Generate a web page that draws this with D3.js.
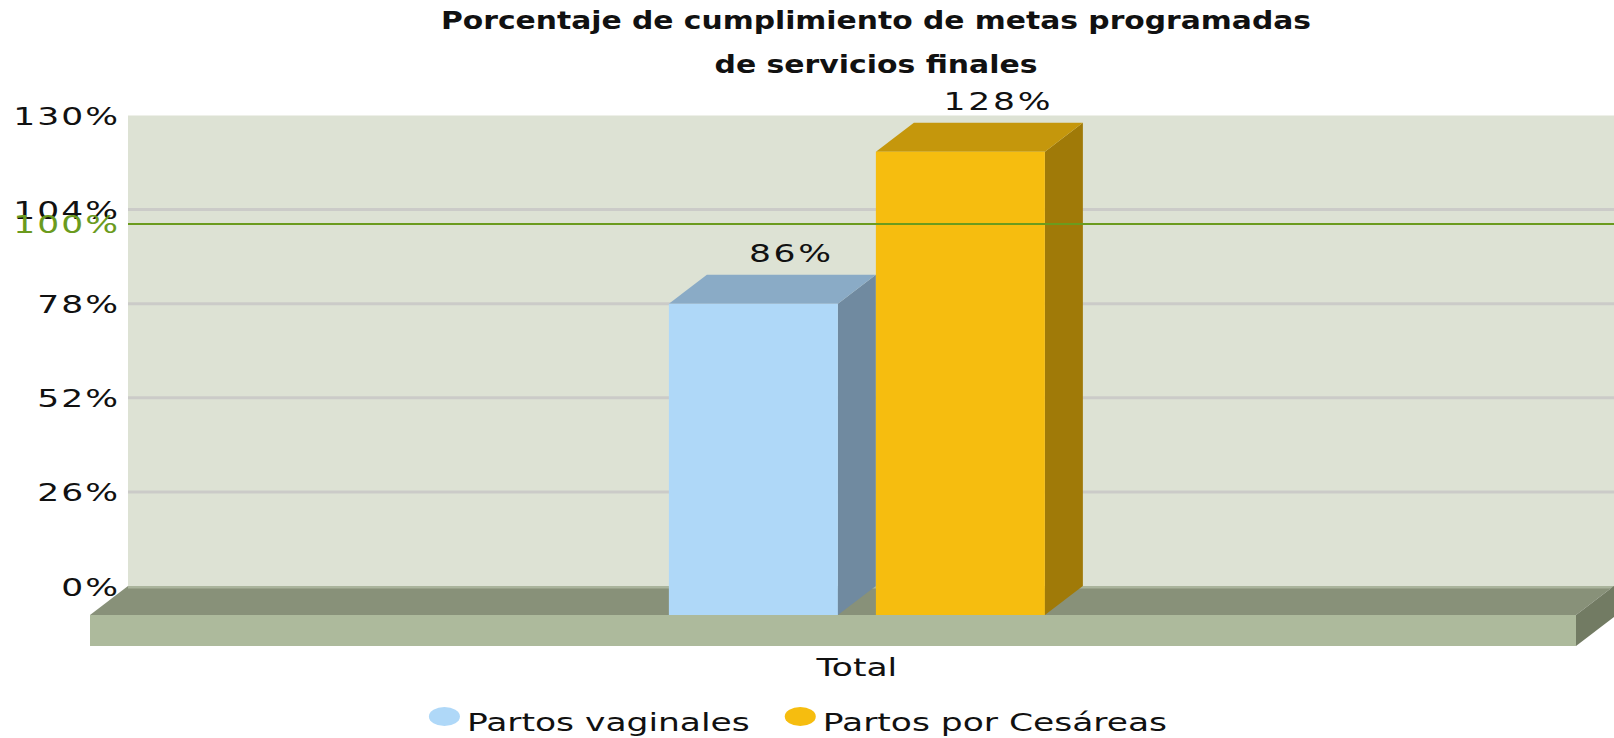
<!DOCTYPE html>
<html>
<head>
<meta charset="utf-8">
<script src="https://cdn.jsdelivr.net/npm/d3@7"></script>
<style>
  html, body { margin: 0; padding: 0; background: #fff; }
  svg { display: block; font-family: "DejaVu Sans", Verdana, sans-serif; }
</style>
</head>
<body>
<div id="chart"></div>
<script>
// Data
var categories   = ['Total'];
var seriesNames  = ['Partos vaginales', 'Partos por Cesáreas'];
var seriesValues = [ [86], [128] ];          // one value per category, per series
var yTicks       = [0, 26, 52, 78, 104, 130];
var targetValue  = 100;
var titleLines   = ['Porcentaje de cumplimiento de metas programadas', 'de servicios finales'];

// colours: front, top, side
var palette = [
    { front: '#afd8f8', top: '#8aabc6', side: '#708aa0' },
    { front: '#f6bd0f', top: '#c5970c', side: '#a07a08' }
];

// size
var chart_width  = 1614;
var chart_height = 738;
var plot_left    = 128;
var plot_right   = 1614;
var plot_top     = 115.5;
var plot_bottom  = 586;
var depth_x      = 38;
var depth_y      = 29;
var floor_h      = 31;
var sx           = 1.38;   // horizontal stretch of the texts

var svg = d3.select('#chart')
    .append('svg')
    .attr('width', chart_width)
    .attr('height', chart_height);

// scales
var y = d3.scaleLinear()
    .domain([0, 130])
    .range([plot_bottom, plot_top]);

var x0 = d3.scaleBand()
    .domain(categories)
    .range([plot_left, plot_right])
    .paddingInner(0)
    .paddingOuter(1.2947)
    .align(0.54);

var x1 = d3.scaleBand()
    .domain(seriesNames)
    .range([0, x0.bandwidth()]);

var bar_w = x1.bandwidth() - depth_x;

// plot background
svg.append('rect')
    .attr('x', plot_left)
    .attr('y', y(130))
    .attr('width', plot_right - plot_left)
    .attr('height', y(0) - y(130))
    .attr('fill', '#dde2d4');

// grid lines
svg.selectAll('line.grid')
    .data(yTicks.filter(function(d){ return d > 0 && d < 130; }))
    .enter()
    .append('line')
    .attr('class', 'grid')
    .attr('x1', plot_left)
    .attr('x2', plot_right)
    .attr('y1', function(d){ return y(d); })
    .attr('y2', function(d){ return y(d); })
    .attr('stroke', '#cbcbc8')
    .attr('stroke-width', 3);

// floor
var fy = y(0);
svg.append('polygon')
    .attr('points', [[plot_left, fy], [plot_right, fy], [plot_right - depth_x, fy + depth_y], [plot_left - depth_x, fy + depth_y]].join(' '))
    .attr('fill', '#889179');
svg.append('line')
    .attr('x1', plot_left).attr('x2', plot_right)
    .attr('y1', fy + 1.2).attr('y2', fy + 1.2)
    .attr('stroke', '#aab49c')
    .attr('stroke-width', 2.5);
svg.append('rect')
    .attr('x', plot_left - depth_x)
    .attr('y', fy + depth_y)
    .attr('width', plot_right - plot_left)
    .attr('height', floor_h)
    .attr('fill', '#adba9c');
svg.append('polygon')
    .attr('points', [[plot_right - depth_x, fy + depth_y], [plot_right, fy], [plot_right, fy + floor_h], [plot_right - depth_x, fy + depth_y + floor_h]].join(' '))
    .attr('fill', '#727b63');

// bars
var barData = [];
seriesNames.forEach(function(s, si){
    categories.forEach(function(c, ci){
        barData.push({ series: s, si: si, cat: c, value: seriesValues[si][ci] });
    });
});

var bars = svg.selectAll('g.bar')
    .data(barData)
    .enter()
    .append('g')
    .attr('class', 'bar');

function bx(d){ return x0(d.cat) + x1(d.series); }

bars.append('polygon')
    .attr('points', function(d){
        var l = bx(d), r = l + bar_w, t = y(d.value), b = y(0);
        return [[r, t], [r, b], [r - depth_x, b + depth_y], [r - depth_x, t + depth_y]].join(' ');
    })
    .attr('fill', function(d){ return palette[d.si].side; });

bars.append('polygon')
    .attr('points', function(d){
        var l = bx(d), r = l + bar_w, t = y(d.value);
        return [[l, t], [r, t], [r - depth_x, t + depth_y], [l - depth_x, t + depth_y]].join(' ');
    })
    .attr('fill', function(d){ return palette[d.si].top; });

bars.append('rect')
    .attr('x', function(d){ return bx(d) - depth_x; })
    .attr('y', function(d){ return y(d.value) + depth_y; })
    .attr('width', bar_w)
    .attr('height', function(d){ return y(0) - y(d.value); })
    .attr('fill', function(d){ return palette[d.si].front; });

// value labels
bars.append('text')
    .attr('transform', function(d){
        return 'translate(' + (bx(d) + bar_w / 2) + ',' + (y(d.value) - 13) + ') scale(' + sx + ',1)';
    })
    .attr('text-anchor', 'middle')
    .attr('font-size', 25)
    .attr('letter-spacing', 2)
    .attr('fill', '#111')
    .text(function(d){ return d.value + '%'; });

// target line
svg.append('line')
    .attr('x1', plot_left)
    .attr('x2', plot_right)
    .attr('y1', y(targetValue))
    .attr('y2', y(targetValue))
    .attr('stroke', '#6b9b1e')
    .attr('stroke-width', 2);

// y axis
var yAxis = svg.append('g')
    .attr('transform', 'translate(' + plot_left + ',0)')
    .call(d3.axisLeft(y).tickValues(yTicks).tickSize(0).tickFormat(function(d){ return d + '%'; }));
yAxis.select('.domain').remove();
yAxis.selectAll('text')
    .attr('x', -8 / sx)
    .attr('dy', 9)
    .attr('transform', 'scale(' + sx + ',1)')
    .attr('font-family', '"DejaVu Sans", Verdana, sans-serif')
    .attr('font-size', 25)
    .attr('letter-spacing', 1.5)
    .attr('fill', '#111');

svg.append('text')
    .attr('transform', 'translate(' + (plot_left - 8) + ',' + (y(targetValue) + 9) + ') scale(' + sx + ',1)')
    .attr('text-anchor', 'end')
    .attr('font-size', 25)
    .attr('letter-spacing', 1.5)
    .attr('fill', '#6b9b1e')
    .text(targetValue + '%');

// category labels
svg.selectAll('text.cat')
    .data(categories)
    .enter()
    .append('text')
    .attr('class', 'cat')
    .attr('transform', function(c){
        var cx = x0(c) - depth_x + (x0.bandwidth() - depth_x) / 2;
        return 'translate(' + cx + ',' + (y(0) + depth_y + floor_h + 30) + ') scale(' + sx + ',1)';
    })
    .attr('text-anchor', 'middle')
    .attr('font-size', 25)
    .attr('fill', '#111')
    .text(function(c){ return c; });

// title
svg.selectAll('text.title')
    .data(titleLines)
    .enter()
    .append('text')
    .attr('class', 'title')
    .attr('x', (plot_left + plot_right) / 2 + 5)
    .attr('y', function(d, i){ return 29 + i * 44; })
    .attr('text-anchor', 'middle')
    .attr('font-size', 24)
    .attr('font-weight', 'bold')
    .attr('fill', '#111')
    .attr('textLength', function(d, i){ return i === 0 ? 870 : 323; })
    .attr('lengthAdjust', 'spacingAndGlyphs')
    .text(function(d){ return d; });

// legend
var legend = svg.append('g');
var cursor = 0;
seriesNames.forEach(function(s, i){
    var item = legend.append('g').attr('transform', 'translate(' + cursor + ',0)');
    item.append('ellipse')
        .attr('cx', 15.5)
        .attr('cy', -14)
        .attr('rx', 15.5)
        .attr('ry', 9.5)
        .attr('fill', palette[i].front);
    var t = item.append('text')
        .attr('transform', 'translate(38,0) scale(' + sx + ',1)')
        .attr('font-size', 25)
        .attr('fill', '#111')
        .text(s);
    cursor += 38 + t.node().getComputedTextLength() * sx + 35;
});
var legend_w = cursor - 35;
legend.attr('transform', 'translate(' + (798 - legend_w / 2) + ',730.5)');
</script>
</body>
</html>
